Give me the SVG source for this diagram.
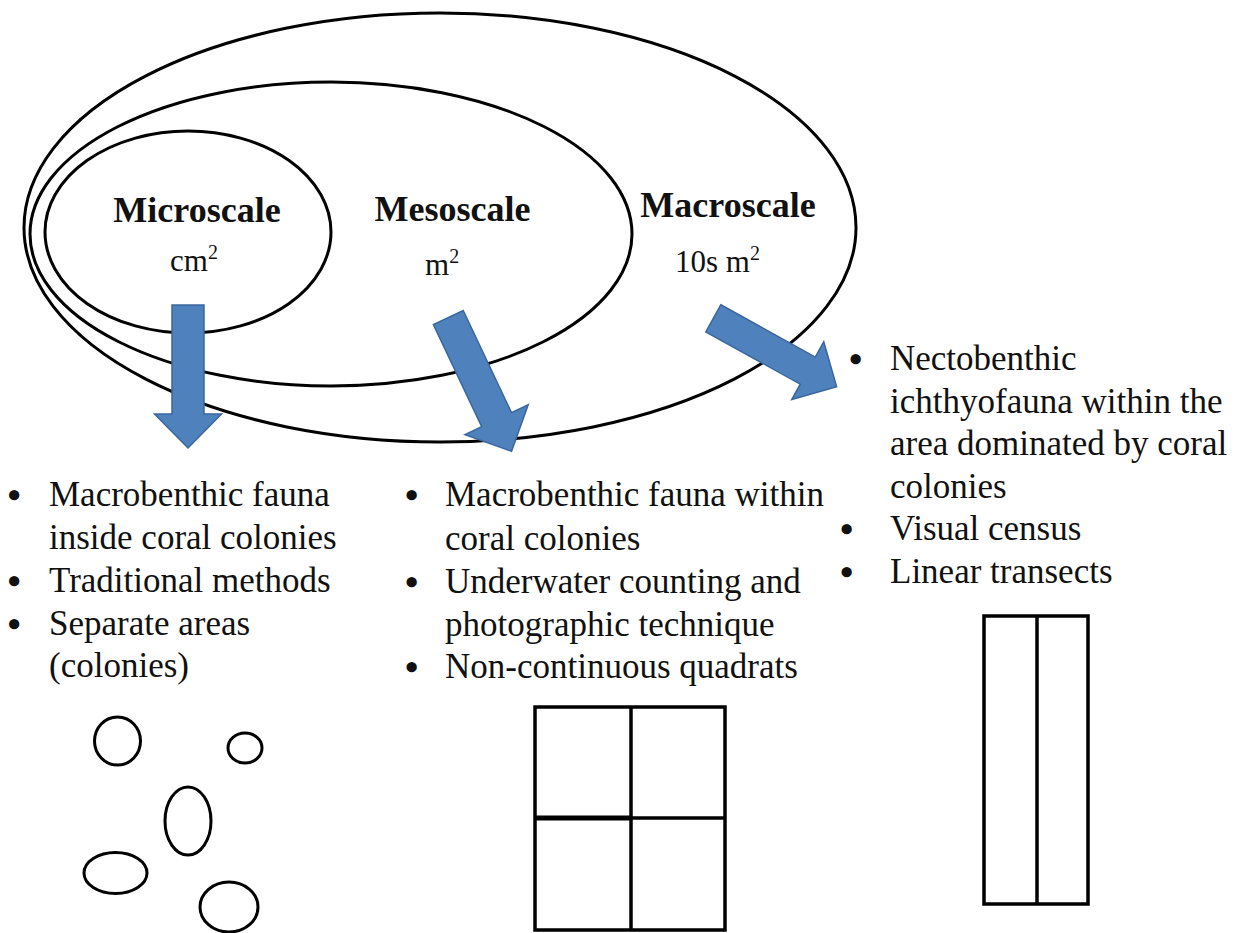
<svg xmlns="http://www.w3.org/2000/svg" width="1246" height="933" viewBox="0 0 1246 933">
<style>
.ell{fill:none;stroke:#000;stroke-width:3}
.shape{fill:none;stroke:#000;stroke-width:3.5}
.arrow{fill:#4F81BD;stroke:#3A679E;stroke-width:1.5;stroke-linejoin:miter}
text{fill:#111;font-family:'Liberation Serif','Times New Roman',serif}
.title{font-weight:bold;font-size:36px}
.unit{font-size:31px}
.txt{font-size:35px}
.bul{font-size:38px;font-weight:bold}
</style>
<rect width="1246" height="933" fill="#fff"/>
<g id="macroscale">
<ellipse class="ell" cx="440" cy="227.5" rx="416" ry="214.5"/>
<text class="title" x="728" y="217" text-anchor="middle">Macroscale</text>
<text class="unit" x="675" y="272">10s m<tspan dy="-12" font-size="20">2</tspan></text>
</g>
<g id="mesoscale">
<ellipse class="ell" cx="331" cy="234" rx="301" ry="152"/>
<text class="title" x="452.5" y="221" text-anchor="middle">Mesoscale</text>
<text class="unit" x="425" y="275">m<tspan dy="-12" font-size="20">2</tspan></text>
</g>
<g id="microscale">
<ellipse class="ell" cx="188" cy="232" rx="143" ry="101"/>
<text class="title" x="197" y="222" text-anchor="middle">Microscale</text>
<text class="unit" x="170" y="271">cm<tspan dy="-12" font-size="20">2</tspan></text>
</g>
<g id="connectors">
<polygon class="arrow" transform="translate(188,305) rotate(90)" points="0,-16 109,-16 109,-33.5 143,0 109,33.5 109,16 0,16"/>
<polygon class="arrow" transform="translate(448.3,317.5) rotate(64.7)" points="0,-16.5 113,-16.5 113,-35 148,0 113,35 113,16.5 0,16.5"/>
<polygon class="arrow" transform="translate(713.3,318.3) rotate(29)" points="0,-15.5 108,-15.5 108,-33 141,0 108,33 108,15.5 0,15.5"/>
</g>
<g id="micro-list">
<text class="bul" x="7.5" y="508">•</text>
<text class="txt" x="49" y="506">Macrobenthic fauna</text>
<text class="txt" x="49" y="549">inside coral colonies</text>
<text class="bul" x="7.5" y="594">•</text>
<text class="txt" x="49" y="592">Traditional methods</text>
<text class="bul" x="7.5" y="637">•</text>
<text class="txt" x="49" y="635">Separate areas</text>
<text class="txt" x="49" y="677">(colonies)</text>
</g>
<g id="meso-list">
<text class="bul" x="405" y="508">•</text>
<text class="txt" x="445" y="506">Macrobenthic fauna within</text>
<text class="txt" x="445" y="550">coral colonies</text>
<text class="bul" x="405" y="595">•</text>
<text class="txt" x="445" y="593">Underwater counting and</text>
<text class="txt" x="445" y="636">photographic technique</text>
<text class="bul" x="405" y="680">•</text>
<text class="txt" x="445" y="678">Non-continuous quadrats</text>
</g>
<g id="macro-list">
<text class="bul" x="849" y="372">•</text>
<text class="txt" x="890" y="370">Nectobenthic</text>
<text class="txt" x="890" y="413">ichthyofauna within the</text>
<text class="txt" x="890" y="455">area dominated by coral</text>
<text class="txt" x="890" y="498">colonies</text>
<text class="bul" x="840" y="542">•</text>
<text class="txt" x="890" y="540">Visual census</text>
<text class="bul" x="840" y="585">•</text>
<text class="txt" x="890" y="583">Linear transects</text>
</g>
<g id="colonies">
<ellipse class="ell" cx="117.5" cy="741" rx="23" ry="24"/>
<ellipse class="ell" cx="245" cy="748" rx="17" ry="15"/>
<ellipse class="ell" cx="188" cy="821" rx="23" ry="34"/>
<ellipse class="ell" cx="115.5" cy="873" rx="31.5" ry="20.5"/>
<ellipse class="ell" cx="229" cy="907" rx="29" ry="25"/>
</g>
<g id="quadrats">
<rect class="shape" x="535" y="707" width="190" height="223"/>
<line class="shape" x1="631" y1="707" x2="631" y2="930"/>
<line class="shape" x1="535" y1="818" x2="631" y2="818" style="stroke-width:5"/>
<line class="shape" x1="631" y1="818" x2="725" y2="818"/>
</g>
<g id="transect">
<rect class="shape" x="984" y="616" width="104" height="288"/>
<line class="shape" x1="1037" y1="616" x2="1037" y2="904"/>
</g>
</svg>
